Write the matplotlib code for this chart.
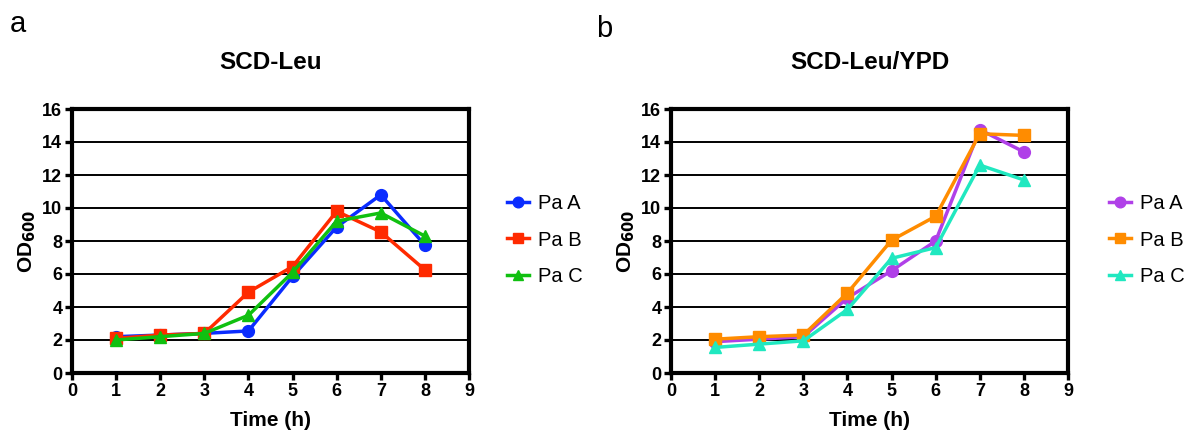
import matplotlib
matplotlib.use("Agg")
import matplotlib.pyplot as plt

plt.rcParams["font.family"] = ["Liberation Sans", "DejaVu Sans"]

time_h = [1, 2, 3, 4, 5, 6, 7, 8]

# SCD-Leu
leu_a = [2.2, 2.3, 2.4, 2.55, 5.85, 8.85, 10.8, 7.75]
leu_b = [2.1, 2.3, 2.4, 4.9, 6.45, 9.8, 8.55, 6.25]
leu_c = [2.0, 2.2, 2.4, 3.5, 6.1, 9.2, 9.7, 8.3]

# SCD-Leu/YPD
ypd_a = [1.9, 2.05, 2.2, 4.55, 6.2, 8.0, 14.75, 13.4]
ypd_b = [2.05, 2.2, 2.3, 4.85, 8.05, 9.5, 14.5, 14.4]
ypd_c = [1.55, 1.75, 1.95, 3.85, 6.95, 7.6, 12.6, 11.7]

labels = ["Pa A", "Pa B", "Pa C"]

W, H = 1189, 432
fig = plt.figure(figsize=(W / 100, H / 100), dpi=100)


def panel(left, series, colors, title, letter, letter_xy, legend_x):
    ax = fig.add_axes([left / W, 59 / H, 397 / W, 264 / H])
    markers = ["o", "s", "^"]
    sizes = [8.5, 8, 8.5]
    for ys, c, m, ms, lab in zip(series, colors, markers, sizes, labels):
        ax.plot(time_h, ys, color=c, marker=m, markersize=ms, linewidth=2.5,
                label=lab, clip_on=False, zorder=3)
    ax.set_xlim(0, 9)
    ax.set_ylim(0, 16)
    ax.set_xticks(range(0, 10))
    ax.set_yticks(range(0, 17, 2))
    ax.grid(axis="y", color="black", linewidth=1.4, zorder=1)
    ax.set_axisbelow(True)
    for sp in ax.spines.values():
        sp.set_linewidth(3)
    ax.tick_params(width=2.4, length=5, labelsize=13, pad=2)
    for t in ax.get_xticklabels() + ax.get_yticklabels():
        t.set_fontweight("bold")
    ax.set_xlabel("Time (h)", fontsize=15, fontweight="bold", labelpad=8)
    ax.set_ylabel("OD$_{\\mathbf{600}}$", fontsize=15, fontweight="bold", labelpad=3)
    ax.set_title(title, fontsize=17.5, fontweight="bold", pad=29)
    ax.legend(loc="center left", bbox_to_anchor=(legend_x / W, 1 - 240 / H),
              bbox_transform=fig.transFigure, frameon=False, borderpad=0,
              borderaxespad=0, fontsize=14.5, handlelength=1.1,
              handletextpad=0.45, labelspacing=0.85, markerscale=0.9)
    fig.text(letter_xy[0] / W, 1 - letter_xy[1] / H, letter, fontsize=21,
             ha="left", va="center")
    return ax


panel(72, [leu_a, leu_b, leu_c], ["#0a2cff", "#ff2a00", "#10c010"],
      "SCD-Leu", "a", (10, 24), 507)
panel(671, [ypd_a, ypd_b, ypd_c], ["#b040e8", "#ff8c00", "#20e8c0"],
      "SCD-Leu/YPD", "b", (596, 29), 1109)

fig.savefig("out.png", dpi=100)
